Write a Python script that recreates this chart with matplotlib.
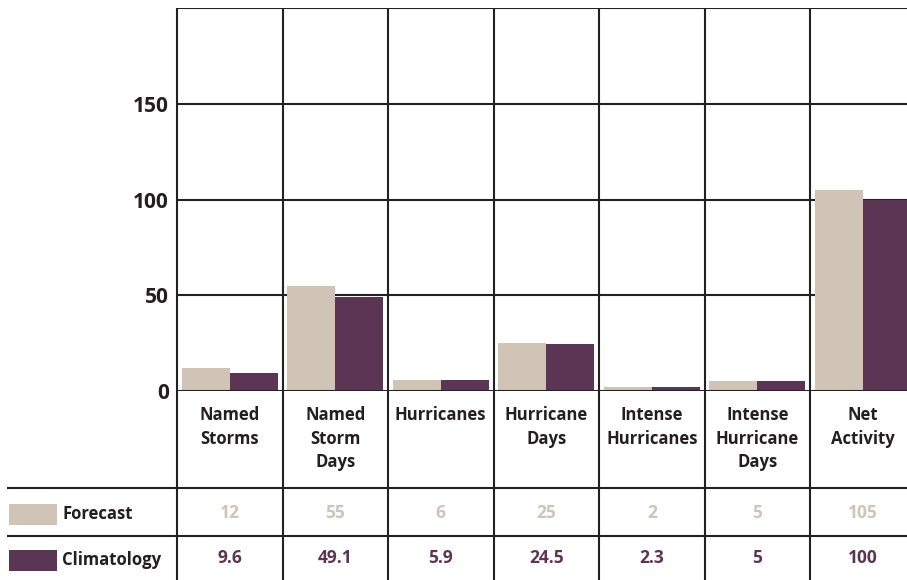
import numpy as np
import matplotlib
matplotlib.use("Agg")
import matplotlib.pyplot as plt
from matplotlib.patches import Rectangle

# data
categories = ["Named\nStorms", "Named\nStorm\nDays", "Hurricanes", "Hurricane\nDays",
              "Intense\nHurricanes", "Intense\nHurricane\nDays", "Net\nActivity"]
forecast = [12, 55, 6, 25, 2, 5, 105]
climatology = [9.6, 49.1, 5.9, 24.5, 2.3, 5, 100]
forecast_labels = ["12", "55", "6", "25", "2", "5", "105"]
climatology_labels = ["9.6", "49.1", "5.9", "24.5", "2.3", "5", "100"]
series_names = ["Forecast", "Climatology"]
yticks = [0, 50, 100, 150]

C_FORE = "#D0C4B7"
C_CLIM = "#5B3654"
C_LINE = "#222222"
C_TEXT = "#231F20"
FONT = "Open Sans"

W, H = 907, 580
LEFT, TOP, ZERO_Y, COLW = 177, 8, 391, 105.5
HEAD_BOT, ROW_MID = 488, 536
LW = 1.5
FS = 12

plt.rcParams['font.family'] = [FONT, 'DejaVu Sans']

fig = plt.figure(figsize=(W / 100, H / 100), dpi=100)
n = len(categories)

# bar axes (extends past the right edge like the original)
ax = fig.add_axes([LEFT / W, (H - ZERO_Y) / H, n * COLW / W, (ZERO_Y - TOP) / H])
x = np.arange(n) + 0.5
bw = 0.455
ax.bar(x - bw / 2, forecast, bw, color=C_FORE, zorder=3)
ax.bar(x + bw / 2, climatology, bw, color=C_CLIM, zorder=3)
ax.set_xlim(0, n)
ax.set_ylim(0, 200)
ax.set_yticks(yticks)
ax.set_yticklabels([str(t) for t in yticks], fontsize=15, fontweight='bold', color=C_TEXT)
ax.set_xticks([])
ax.tick_params(axis='y', length=0, pad=6)
for t in yticks[1:]:
    ax.axhline(t, color=C_LINE, lw=LW, zorder=1)
for s in ax.spines.values():
    s.set_visible(False)
ax.axhline(0, color=C_LINE, lw=LW, zorder=4)
ax.axhline(200, color=C_LINE, lw=LW, zorder=4)

# overlay in pixel coordinates for the table part
ov = fig.add_axes([0, 0, 1, 1], zorder=5)
ov.set_xlim(0, W)
ov.set_ylim(H, 0)
ov.axis('off')
ov.patch.set_alpha(0)

for i in range(n + 1):
    xp = LEFT + i * COLW
    ov.plot([xp, xp], [TOP, H], color=C_LINE, lw=LW, solid_capstyle='butt')
for yp in (HEAD_BOT, ROW_MID):
    ov.plot([7, W], [yp, yp], color=C_LINE, lw=LW, solid_capstyle='butt')

for i, cat in enumerate(categories):
    cx = LEFT + (i + 0.5) * COLW
    ov.text(cx, 406, cat, ha='center', va='top', fontsize=FS, fontweight='bold',
            color=C_TEXT, linespacing=1.4)
    ov.text(cx, 513, forecast_labels[i], ha='center', va='center', fontsize=FS + 0.5,
            fontweight='bold', color=C_FORE)
    ov.text(cx, 558, climatology_labels[i], ha='center', va='center', fontsize=FS + 0.5,
            fontweight='bold', color=C_CLIM)

for name, col, yc in zip(series_names, [C_FORE, C_CLIM], [514, 560]):
    ov.add_patch(Rectangle((9, yc - 10.5), 48, 21, color=col, lw=0))
    ov.text(62, yc, name, ha='left', va='center', fontsize=FS, fontweight='bold', color=C_TEXT)

fig.savefig("out.png", dpi=100)
